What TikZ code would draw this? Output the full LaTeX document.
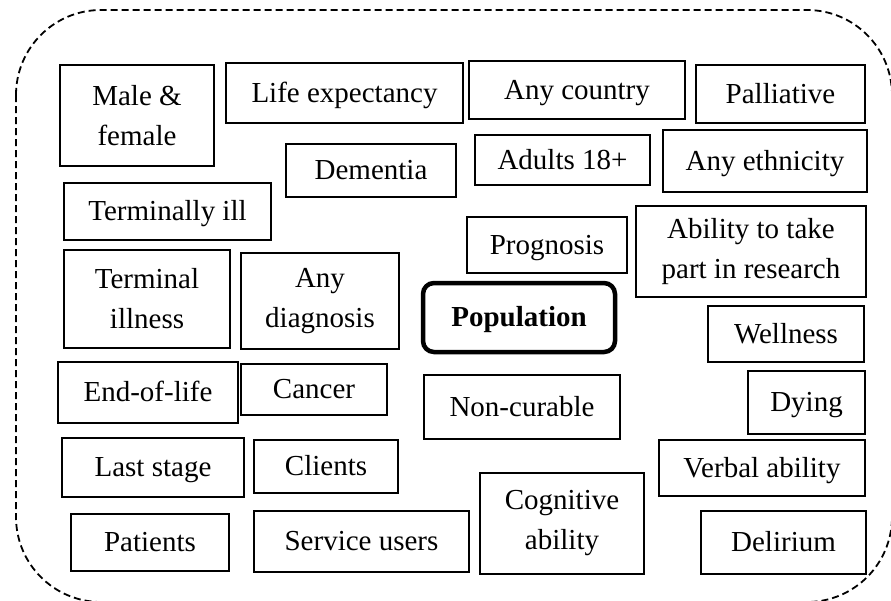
\documentclass[tikz,border=0pt]{standalone}
\usepackage{fontspec}
\setmainfont{Liberation Serif}
\begin{document}
\begin{tikzpicture}[x=1pt,y=-1pt,
  every node/.style={font=\fontsize{29}{40}\selectfont, inner sep=0pt, align=center},
  tbox/.style={draw=black, line width=2.2pt, fill=white},
  oneline/.style={text height=20pt, text depth=2pt},
  popbox/.style={draw=black, line width=4.5pt, rounded corners=11pt, fill=white, font=\fontsize{29}{40}\selectfont\bfseries, text height=20pt, text depth=2pt},
  frame/.style={draw=black, line width=1.8pt, dash pattern=on 7pt off 4pt, rounded corners=85pt}]
\useasboundingbox (0,0) rectangle (891,600);
\clip (0,0) rectangle (891,600);
\draw[frame] (16,10) rectangle (892,602);
\newcommand{\bx}[6]{\node[tbox, oneline, minimum width=#4, minimum height=#5] (#1) at (#2,#3) {#6};}
\newcommand{\bt}[6]{\node[tbox, minimum width=#4, minimum height=#5] (#1) at (#2,#3) {#6};}
\bt{male}{137}{115.5}{154pt}{101pt}{Male \&\\female}
\bx{life}{344.5}{93}{237pt}{60pt}{Life expectancy}
\bx{country}{577}{90}{216pt}{58pt}{Any country}
\bx{palliative}{780.5}{94}{169pt}{58pt}{Palliative}
\bx{dementia}{371}{170.5}{170pt}{53pt}{Dementia}
\bx{adults}{562.5}{160}{175pt}{50pt}{Adults 18+}
\bx{ethnicity}{765}{161}{204pt}{62pt}{Any ethnicity}
\bx{termill}{167.5}{211.5}{207pt}{57pt}{Terminally ill}
\bx{prognosis}{547}{245}{160pt}{56pt}{Prognosis}
\bt{ability}{751}{251.5}{230pt}{91pt}{Ability to take\\part in research}
\bt{termillness}{147}{299}{166pt}{98pt}{Terminal\\illness}
\bt{anydiag}{320}{301}{158pt}{96pt}{Any\\diagnosis}
\node[popbox, minimum width=192pt, minimum height=69pt] (pop) at (519,317.5) {Population};
\bx{wellness}{786}{334}{156pt}{56pt}{Wellness}
\bx{eol}{148}{392.5}{180pt}{61pt}{End-of-life}
\bx{cancer}{314}{389.5}{146pt}{51pt}{Cancer}
\bx{noncur}{522}{407}{196pt}{64pt}{Non-curable}
\bx{dying}{806.5}{402.5}{117pt}{63pt}{Dying}
\bx{last}{153}{467.5}{182pt}{59pt}{Last stage}
\bx{clients}{326}{466.5}{144pt}{53pt}{Clients}
\bx{verbal}{762}{468}{206pt}{56pt}{Verbal ability}
\bt{cognitive}{562}{523.5}{164pt}{101pt}{Cognitive\\ability}
\bx{patients}{150}{542.5}{158pt}{57pt}{Patients}
\bx{service}{361.5}{541.5}{215pt}{61pt}{Service users}
\bx{delirium}{783.5}{542.5}{165pt}{63pt}{Delirium}
\end{tikzpicture}
\end{document}
